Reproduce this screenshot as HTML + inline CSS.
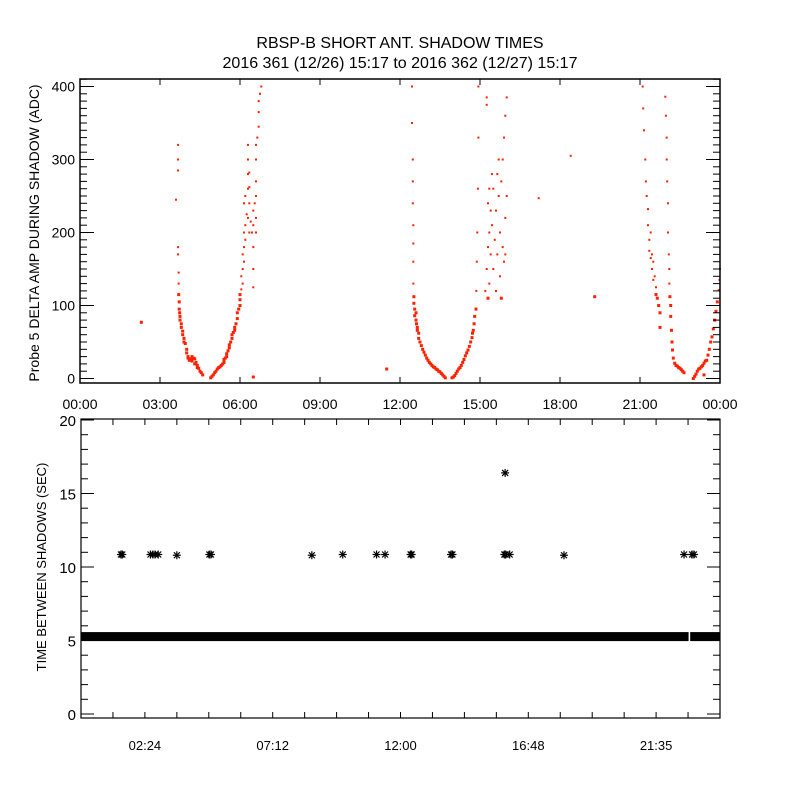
<!DOCTYPE html>
<html><head><meta charset="utf-8"><style>
html,body{margin:0;padding:0;background:#fff;}
svg{display:block;font-family:"Liberation Sans",sans-serif;}
</style></head><body>
<svg id="chart" width="800" height="800" viewBox="0 0 800 800">
<rect x="0" y="0" width="800" height="800" fill="#fff"/>
<text x="400" y="48" text-anchor="middle" font-size="16">RBSP-B SHORT ANT. SHADOW TIMES</text>
<text x="400" y="68" text-anchor="middle" font-size="16">2016 361 (12/26) 15:17 to 2016 362 (12/27) 15:17</text>
<g id="topPanel"></g>
<g id="botPanel"></g>
</svg>
<script>
// ---- Top panel data: hours since 00:00, delta amplitude (ADC)
const ampHours = [
2.3,3.6,3.68,3.68,3.68,3.68,3.68,3.7,3.7,3.7,3.72,3.72,3.74,3.75,3.75,3.8,3.8,3.85,3.85,3.9,3.9,3.95,4.0,4.0,4.05,4.05,4.1,4.15,4.2,4.2,4.25,4.3,4.3,4.35,4.4,4.4,4.45,4.5,4.55,4.6,
4.9,4.95,5.0,5.05,5.1,5.15,5.2,5.25,5.3,5.35,5.4,5.4,5.45,5.5,5.5,5.55,5.6,5.6,5.65,5.7,5.7,5.75,5.8,5.8,5.85,5.9,5.9,5.95,6.0,6.0,6.0,6.05,6.05,6.1,6.1,6.1,6.15,6.15,6.15,6.15,6.2,6.2,6.2,6.25,6.3,6.3,6.3,6.3,6.3,6.35,6.35,6.35,6.35,6.4,6.45,6.5,6.5,6.5,6.5,6.5,6.55,6.6,6.6,6.6,6.6,6.6,6.6,6.65,6.7,6.7,6.7,6.75,6.8,6.5,11.5,
12.45,12.45,12.48,12.48,12.48,12.5,12.5,12.5,12.5,12.52,12.52,12.55,12.55,12.6,12.6,12.62,12.65,12.65,12.7,12.7,12.75,12.8,12.85,12.9,12.95,13.0,13.05,13.1,13.15,13.2,13.25,13.3,13.35,13.4,13.45,13.5,13.55,13.6,13.65,13.7,
13.95,14.0,14.05,14.1,14.15,14.2,14.25,14.3,14.35,14.4,14.45,14.5,14.55,14.6,14.65,14.7,14.72,14.75,14.78,14.8,14.85,14.86,14.88,14.9,14.92,14.94,14.94,
15.2,15.25,15.25,15.3,15.3,15.3,15.35,15.35,15.35,15.4,15.4,15.45,15.45,15.5,15.5,15.55,15.6,15.6,15.65,15.65,15.7,15.7,15.75,15.75,15.8,15.8,15.85,15.85,15.9,15.9,15.95,15.95,16.0,16.0,15.25,15.95,
18.4,17.2,19.3,
21.1,21.12,21.15,21.2,21.22,21.25,21.3,21.3,21.35,21.35,21.4,21.4,21.45,21.45,21.5,21.5,21.55,21.6,21.6,21.65,21.7,21.75,21.75,
21.95,21.97,22.0,22.0,22.02,22.05,22.05,22.08,22.1,22.1,22.12,22.15,22.15,22.18,22.2,22.22,22.25,22.3,22.35,22.4,22.45,22.5,22.55,22.6,22.65,
23.0,23.05,23.1,23.15,23.2,23.25,23.3,23.35,23.4,23.45,23.5,23.55,23.6,23.65,23.7,23.75,23.8,23.85,23.9,23.95,23.98,24.0,23.4
];
const ampValues = [
77,245,320,300,285,180,170,145,130,115,105,95,90,85,80,75,70,65,60,55,50,48,40,35,30,28,25,27,30,24,28,27,20,22,18,15,14,10,8,5,
1,3,5,8,10,13,15,16,18,20,22,26,28,30,34,38,42,46,50,55,60,63,66,70,75,82,90,95,100,108,115,122,140,150,170,130,180,200,160,240,210,250,190,225,260,300,220,280,320,240,200,262,282,215,200,125,150,180,210,230,240,250,200,220,270,300,320,330,345,365,380,390,400,2,13,
400,350,300,270,240,210,185,160,130,112,103,95,86,90,80,75,66,70,62,55,50,45,40,36,32,28,25,22,20,18,16,15,13,12,10,9,7,5,3,1,
1,2,4,7,10,13,15,18,22,26,31,35,39,44,50,56,62,66,75,85,95,120,160,200,260,330,400,
120,385,150,110,180,240,200,260,130,170,230,280,210,260,150,190,120,230,280,170,250,300,140,200,110,270,180,300,160,330,220,360,250,385,375,170,
305,247,112,
400,370,340,300,270,250,232,210,190,175,200,165,170,150,160,135,140,125,115,110,100,90,70,
386,360,330,300,270,240,200,170,150,130,112,100,85,66,50,39,28,21,18,17,15,14,12,10,8,
0,3,6,10,13,14,16,18,21,24,25,32,40,50,57,68,80,92,105,121,135,150,5
];
const ampTicks = [0,100,200,300,400];
const hourTickLabels = ["00:00","03:00","06:00","09:00","12:00","15:00","18:00","21:00","00:00"];
// ---- Bottom panel data
const bandStarts = [0, 22.88];
const bandEnds = [22.82, 24];
const bandValue = 5.3;
const starHours = [1.5,1.55,2.61,2.7,2.78,2.9,3.6,4.82,4.88,8.67,9.83,11.1,11.42,12.38,12.42,13.9,13.95,15.9,15.95,16.1,18.14,22.65,22.95,23.02,15.93];
const starValues = [10.85,10.85,10.85,10.85,10.85,10.85,10.8,10.85,10.85,10.8,10.85,10.85,10.85,10.85,10.85,10.85,10.85,10.85,10.85,10.85,10.8,10.85,10.85,10.85,16.4];
const secTicks = [0,5,10,15,20];
const bottomTickHours = [2.4,7.2,12.0,16.8,21.6];
const bottomTickLabels = ["02:24","07:12","12:00","16:48","21:35"];

const NS="http://www.w3.org/2000/svg";
function mk(tag,attrs,parent){const e=document.createElementNS(NS,tag);for(const k in attrs)e.setAttribute(k,attrs[k]);parent.appendChild(e);return e;}

// Top axes
const T={x0:80,x1:720,y0:79,y1:383};
const tx=h=>T.x0+(h/24)*(T.x1-T.x0);
const ty=v=>378.5-v*0.73;
const topG=document.getElementById('topPanel');
const dots=mk('g',{fill:'#ff2000'},topG);


const nAmp=Math.min(ampHours.length,ampValues.length);
for(let i=0;i<nAmp;i++){
  const s=ampValues[i]<120?3:2;
  const r=mk('rect',{x:(tx(ampHours[i])-s/2).toFixed(1),y:(ty(ampValues[i])-s/2).toFixed(1),width:s,height:s},dots);
  
  
}
const tf=mk('rect',{x:T.x0,y:T.y0,width:T.x1-T.x0,height:T.y1-T.y0,fill:'none',stroke:'#000','stroke-width':1.5},topG);


const tt=mk('g',{stroke:'#000','stroke-width':1},topG);


for(let v=0;v<=410;v+=10){
  const y=ty(v); if(y<T.y0) continue;
  const L=(v%100===0)?14:7;
  mk('line',{x1:T.x0,x2:T.x0+L,y1:y,y2:y},tt);
  mk('line',{x1:T.x1,x2:T.x1-L,y1:y,y2:y},tt);
}
for(let k=0;k<hourTickLabels.length;k++){
  const x=tx(k*3);
  mk('line',{x1:x,x2:x,y1:T.y1,y2:T.y1-6},tt);
  mk('line',{x1:x,x2:x,y1:T.y0,y2:T.y0+6},tt);
  const t=mk('text',{x:x,y:409,'text-anchor':'middle','font-size':14},topG);
  t.textContent=hourTickLabels[k];
  
  
}
ampTicks.forEach(v=>{
  const t=mk('text',{x:75,y:ty(v)+5,'text-anchor':'end','font-size':14},topG);
  t.textContent=String(v);
  
  
});
const yt=mk('text',{x:0,y:0,'text-anchor':'middle','font-size':14,transform:'translate(39,233) rotate(-90)'},topG);
yt.textContent='Probe 5 DELTA AMP DURING SHADOW (ADC)';



// Bottom axes
const B={x0:81,x1:720,y0:419,y1:718};
const bx=h=>B.x0+(h/24)*(B.x1-B.x0);
const by=v=>714-v*14.7;
const botG=document.getElementById('botPanel');
const band=mk('g',{fill:'#000'},botG);


for(let i=0;i<Math.min(bandStarts.length,bandEnds.length);i++){
  const r=mk('rect',{x:bx(bandStarts[i]),y:by(bandValue)-4,width:bx(bandEnds[i])-bx(bandStarts[i]),height:9},band);
  
  
}
const stars=mk('g',{stroke:'#000','stroke-width':1.2},botG);


for(let i=0;i<Math.min(starHours.length,starValues.length);i++){
  const x=bx(starHours[i]),y=by(starValues[i]);
  const g=mk('g',{},stars);
  
  
  mk('line',{x1:x,x2:x,y1:y-4,y2:y+4},g);
  mk('line',{x1:x-4,x2:x+4,y1:y,y2:y},g);
  mk('line',{x1:x-3,x2:x+3,y1:y-3,y2:y+3},g);
  mk('line',{x1:x-3,x2:x+3,y1:y+3,y2:y-3},g);
}
const bf=mk('rect',{x:B.x0,y:B.y0,width:B.x1-B.x0,height:B.y1-B.y0,fill:'none',stroke:'#000','stroke-width':1.2},botG);


const bt=mk('g',{stroke:'#000','stroke-width':1},botG);


for(let v=0;v<=20;v++){
  const y=by(v); const L=(v%5===0)?13:7;
  mk('line',{x1:B.x0,x2:B.x0+L,y1:y,y2:y},bt);
  mk('line',{x1:B.x1,x2:B.x1-L,y1:y,y2:y},bt);
}
for(let h=1.2;h<24;h+=1.2){
  const x=bx(h);
  mk('line',{x1:x,x2:x,y1:B.y1,y2:B.y1-6},bt);
  mk('line',{x1:x,x2:x,y1:B.y0,y2:B.y0+6},bt);
}
bottomTickHours.forEach((h,i)=>{
  const t=mk('text',{x:bx(h),y:750,'text-anchor':'middle','font-size':13},botG);
  t.textContent=bottomTickLabels[i];
  
  
});
secTicks.forEach(v=>{
  const t=mk('text',{x:76,y:by(v)+6,'text-anchor':'end','font-size':15},botG);
  t.textContent=String(v);
  
  
});
const byt=mk('text',{x:0,y:0,'text-anchor':'middle','font-size':13,transform:'translate(46,567) rotate(-90)'},botG);
byt.textContent='TIME BETWEEN SHADOWS (SEC)';


</script>
</body></html>
